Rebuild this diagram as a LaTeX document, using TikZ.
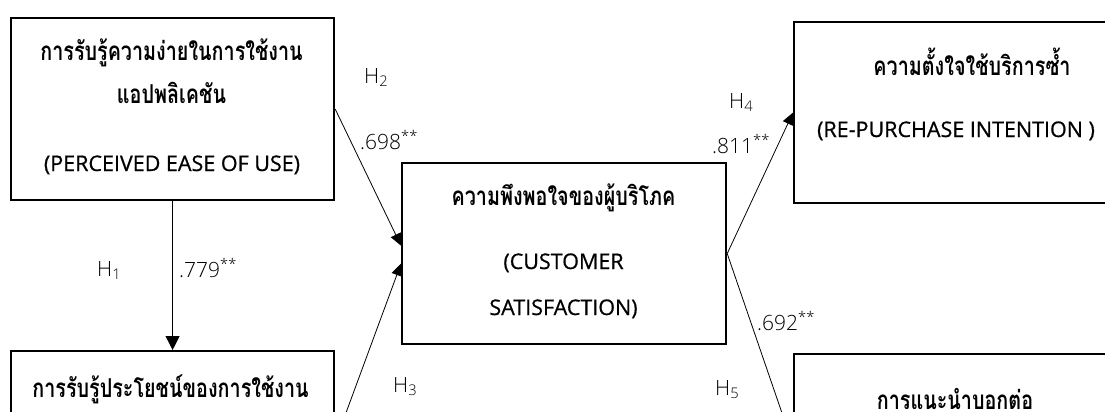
\documentclass[tikz,border=0pt]{standalone}
\usepackage{fontspec}
\setmainfont{Open Sans}
\newfontfamily\thai[Script=Thai, FakeStretch=0.76]{Loma}
\newfontfamily\eng[FakeBold=0.7]{Open Sans}
\IfFontExistsTF{Open Sans Light}{\newfontfamily\labfont{Open Sans Light}}{\newfontfamily\labfont{Open Sans}}
\usetikzlibrary{arrows.meta}
\tikzset{
  box/.style={draw, line width=2.2pt, rectangle, inner sep=0pt, anchor=north west},
  thtxt/.style={font=\thai\bfseries\fontsize{26}{30}\selectfont, anchor=base, inner sep=0pt},
  entxt/.style={font=\eng\fontsize{21.5}{26}\selectfont, anchor=base, inner sep=0pt},
  lab/.style={font=\labfont\fontsize{21}{25}\selectfont, text=black, anchor=base west, inner sep=0pt},
  arr/.style={-{Triangle[length=12pt,width=11pt]}, line width=0.8pt},
  arrb/.style={-{Triangle[length=14pt,width=14pt]}, line width=1.1pt},
}
\begin{document}
\begin{tikzpicture}[x=1pt,y=-1pt]
\useasboundingbox (0,0) rectangle (1105,412);
\clip (0,0) rectangle (1105,412);
% boxes
\node[box, minimum width=323pt, minimum height=182pt] (A) at (10,17) {};
\node[box, minimum width=323pt, minimum height=182pt] (B) at (10,350) {};
\node[box, minimum width=324pt, minimum height=181pt] (C) at (401,162) {};
\node[box, minimum width=344pt, minimum height=181pt] (D) at (793,21) {};
\node[box, minimum width=344pt, minimum height=182pt] (E) at (793,353) {};
% box texts
\node[thtxt] (A1) at (171.5,60) {การรับรู้ความง่ายในการใช้งาน};
\node[thtxt] (A2) at (171.5,103) {แอปพลิเคชัน};
\node[entxt] (A3) at (172,171) {(PERCEIVED EASE OF USE)};
\node[thtxt] (B1) at (170.5,397) {การรับรู้ประโยชน์ของการใช้งาน};
\node[thtxt] (C1) at (563.5,205) {ความพึงพอใจของผู้บริโภค};
\node[entxt] (C2) at (563.5,269) {(CUSTOMER};
\node[entxt] (C3) at (563.5,315) {SATISFACTION)};
\node[thtxt] (D1) at (972,75) {ความตั้งใจใช้บริการซ้ำ};
\node[entxt] (D2) at (956,137) {(RE-PURCHASE INTENTION )};
\node[thtxt] (E1) at (955,409) {การแนะนำบอกต่อ};
% connectors
\coordinate (C2in) at ([yshift=8pt]C.west);
\coordinate (C3in) at ([yshift=-10pt]C.west);
\draw[arrb] (A.south) -- (B.north);
\draw[arr] (A.east) -- (C2in);
\draw[arr] (B.east) -- (C3in);
\draw[arr] (C.east) -- (D.west);
\draw[arr] (C.east) -- (E.west);
% labels
\node[lab] (h1) at (97,276) {H\textsubscript{1}};
\node[lab] (v1) at (179,277) {.779\textsuperscript{**}};
\node[lab] (h2) at (364,83) {H\textsubscript{2}};
\node[lab] (v2) at (360,149) {.698\textsuperscript{**}};
\node[lab] (h3) at (393,392) {H\textsubscript{3}};
\node[lab] (h4) at (729,108) {H\textsubscript{4}};
\node[lab] (v4) at (712,153) {.811\textsuperscript{**}};
\node[lab] (h5) at (715,395) {H\textsubscript{5}};
\node[lab] (v5) at (757,330) {.692\textsuperscript{**}};
\end{tikzpicture}
\end{document}
